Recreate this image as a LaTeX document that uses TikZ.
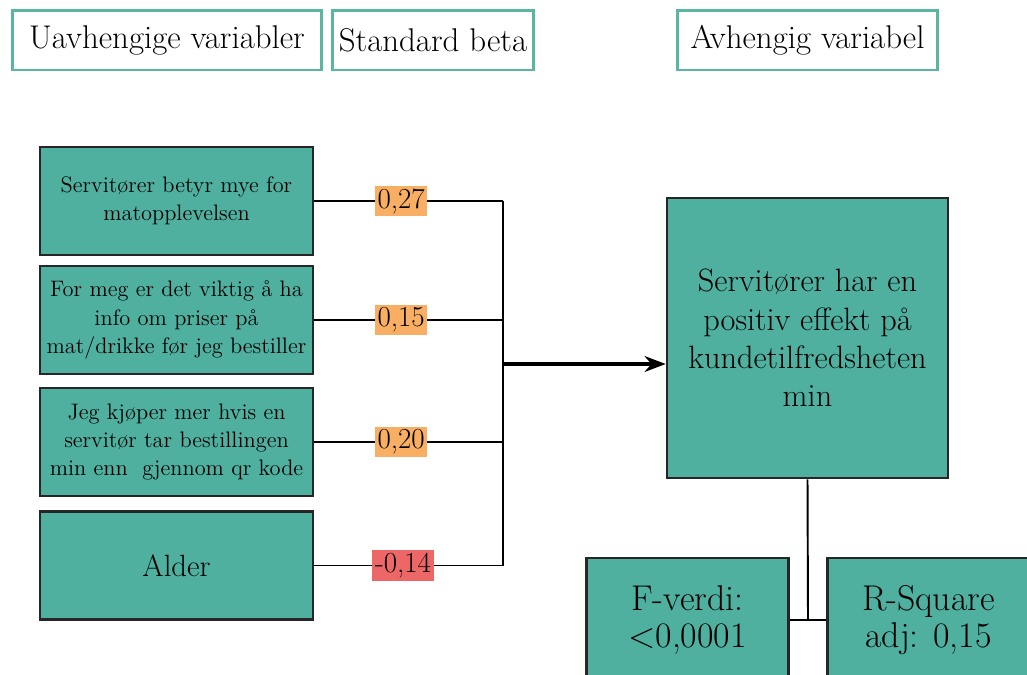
\documentclass[tikz,border=0pt]{standalone}
\usepackage{fontspec}
\usetikzlibrary{arrows.meta}
\definecolor{tealfill}{RGB}{80,176,160}
\definecolor{tealline}{RGB}{90,181,162}
\definecolor{betaorange}{RGB}{248,175,99}
\definecolor{betared}{RGB}{238,103,103}
\begin{document}
\begin{tikzpicture}[
    x=0.02cm, y=-0.02cm,
    head/.style={rectangle, draw=tealline, line width=1.7pt, fill=white, minimum height=1.2cm, font=\fontsize{18.7}{21.6}\selectfont},
    var/.style={rectangle, draw=black!85, line width=1.5pt, fill=tealfill, minimum width=5.46cm, minimum height=2.16cm, align=center, font=\fontsize{12.75}{16}\selectfont},
    dep/.style={rectangle, draw=black!85, line width=1.5pt, fill=tealfill, minimum width=5.62cm, minimum height=5.6cm, align=center, font=\fontsize{18.4}{21.8}\selectfont},
    stat/.style={rectangle, draw=black!85, line width=1.5pt, fill=tealfill, minimum width=4.03cm, minimum height=2.48cm, align=center, font=\fontsize{20.4}{20.6}\selectfont},
    beta/.style={fill=betaorange, inner sep=1.6pt, font=\fontsize{16.5}{18}\selectfont},
    link/.style={line width=1.1pt, black},
    arr/.style={-{Stealth[length=12pt, width=9pt]}, line width=2.2pt, black},
]
\clip (0,0) rectangle (1027,674);
\fill[white] (0,0) rectangle (1027,674);
% overskrifter
\node[head, minimum width=6.2cm] (hvar) at (167,40) {Uavhengige variabler};
\node[head, minimum width=4.04cm] (hbeta) at (433,40) {Standard beta};
\node[head, minimum width=5.22cm] (hdep) at (807.5,40) {Avhengig variabel};
% uavhengige variabler
\node[var] (serv) at (176.5,201) {Servitører betyr mye for\\matopplevelsen};
\node[var] (info) at (176.5,320) {For meg er det viktig å ha\\info om priser på\\mat/drikke før jeg bestiller};
\node[var] (kjop) at (176.5,442) {Jeg kjøper mer hvis en\\servitør tar bestillingen\\min enn\ \ gjennom qr kode};
\node[var, font=\fontsize{17.5}{20}\selectfont] (alder) at (176.5,565.5) {Alder};
% avhengig variabel og statistikk
\node[dep] (effekt) at (807.5,338) {Servitører har en\\positiv effekt på\\kundetilfredsheten\\min};
\node[stat] (fverdi) at (687.5,620) {F-verdi:\\<0,0001};
\node[stat] (rsq) at (928.5,620) {R-Square\\adj: 0,15};
\coordinate (bus) at (503,0);
\coordinate (join) at (503,364);
\coordinate (mid) at (808,620);
\draw[link] (serv.east) -- node[beta, pos=0.46] {0,27} (serv.east -| bus);
\draw[link] (info.east) -- node[beta, pos=0.46] {0,15} (info.east -| bus);
\draw[link] (kjop.east) -- node[beta, pos=0.46] {0,20} (kjop.east -| bus);
\draw[link] (alder.east) -- node[beta, pos=0.47, fill=betared] {-0,14} (alder.east -| bus);
\draw[link] (serv.east -| bus) -- (alder.east -| bus);
\draw[arr] (join) -- (join -| effekt.west);
\draw[link] (effekt.south) -- (mid);
\draw[link] (fverdi.east) -- (rsq.west);
\end{tikzpicture}
\end{document}
